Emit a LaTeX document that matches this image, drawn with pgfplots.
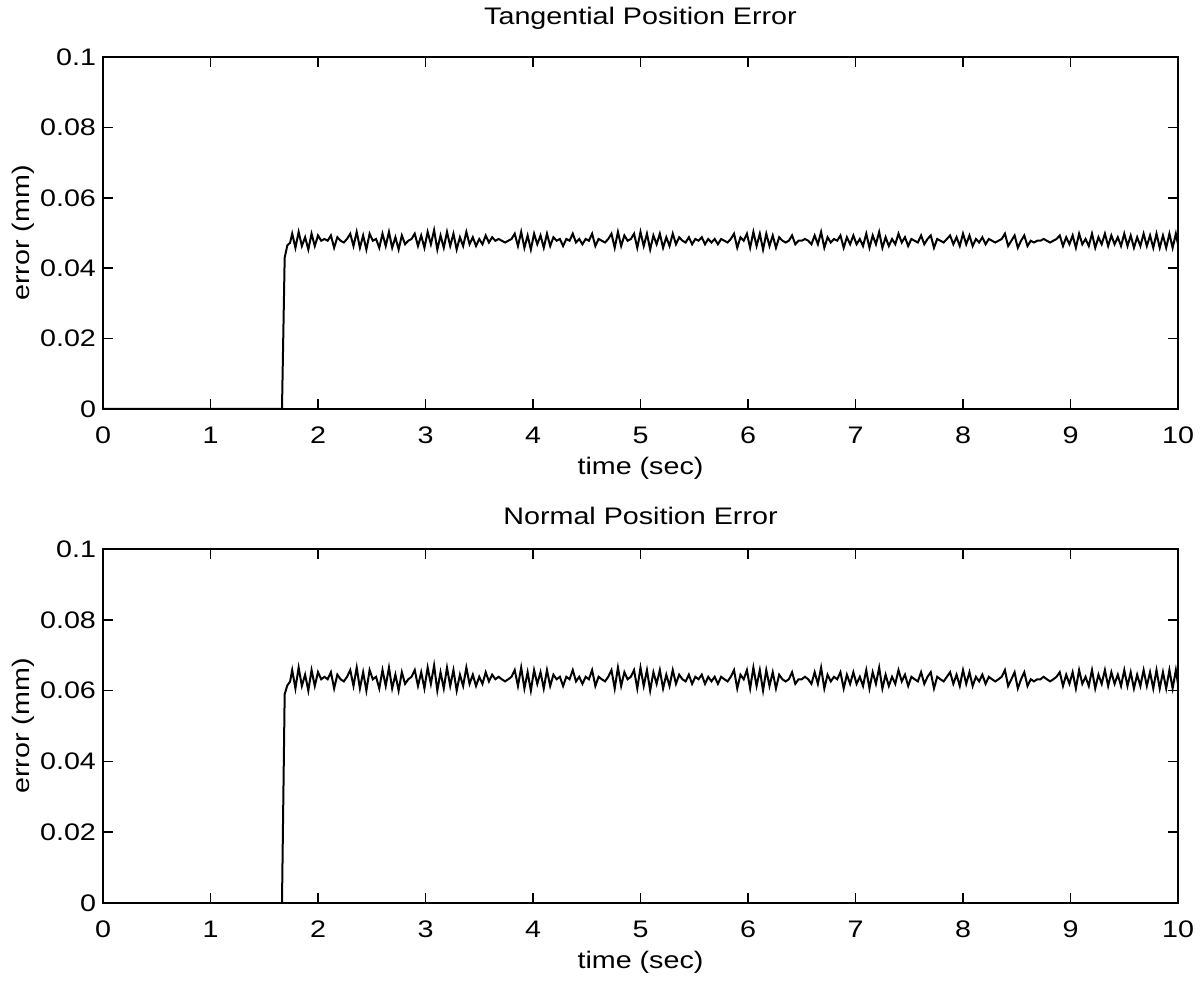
\documentclass[border=0pt]{standalone}
\usepackage{fontspec}
\setmainfont[FakeStretch=1.2]{Liberation Sans}
\usepackage{pgfplots}
\pgfplotsset{compat=1.18}
\usepackage{pgfplotstable}

\pgfplotstableread{
t top bot
0 0 0
1.665 0 0
1.69 0.0430 0.0590
1.715 0.0465 0.0615
1.74 0.0472 0.0625
1.76 0.0498 0.0658
1.79 0.0458 0.0606
1.82 0.0503 0.0665
1.85 0.0463 0.0613
1.88 0.0488 0.0645
1.91 0.0453 0.0600
1.94 0.0498 0.0658
1.97 0.0463 0.0613
2.00 0.0493 0.0652
2.03 0.0478 0.0632
2.06 0.0483 0.0639
2.09 0.0478 0.0632
2.12 0.0493 0.0652
2.15 0.0458 0.0606
2.18 0.0488 0.0645
2.21 0.0478 0.0632
2.24 0.0473 0.0626
2.27 0.0483 0.0639
2.30 0.0498 0.0658
2.33 0.0463 0.0613
2.36 0.0503 0.0665
2.39 0.0458 0.0606
2.42 0.0493 0.0652
2.45 0.0453 0.0600
2.48 0.0498 0.0658
2.51 0.0478 0.0632
2.54 0.0483 0.0639
2.57 0.0458 0.0606
2.60 0.0498 0.0658
2.63 0.0463 0.0613
2.66 0.0503 0.0665
2.69 0.0458 0.0606
2.72 0.0488 0.0645
2.75 0.0453 0.0600
2.78 0.0493 0.0652
2.81 0.0468 0.0619
2.84 0.0478 0.0632
2.87 0.0483 0.0639
2.90 0.0498 0.0658
2.93 0.0463 0.0613
2.96 0.0493 0.0652
2.99 0.0458 0.0606
3.02 0.0503 0.0665
3.05 0.0468 0.0619
3.08 0.0508 0.0671
3.11 0.0453 0.0600
3.14 0.0493 0.0652
3.17 0.0458 0.0606
3.20 0.0503 0.0665
3.23 0.0463 0.0613
3.26 0.0498 0.0658
3.29 0.0453 0.0600
3.32 0.0488 0.0645
3.35 0.0463 0.0613
3.38 0.0503 0.0665
3.41 0.0468 0.0619
3.44 0.0488 0.0645
3.47 0.0463 0.0613
3.50 0.0483 0.0639
3.53 0.0468 0.0619
3.56 0.0493 0.0652
3.59 0.0473 0.0626
3.62 0.0488 0.0645
3.65 0.0478 0.0632
3.68 0.0483 0.0639
3.71 0.0478 0.0632
3.74 0.0473 0.0626
3.77 0.0478 0.0632
3.80 0.0483 0.0639
3.83 0.0498 0.0658
3.86 0.0463 0.0613
3.89 0.0503 0.0665
3.92 0.0458 0.0606
3.95 0.0493 0.0652
3.98 0.0453 0.0600
4.01 0.0498 0.0658
4.04 0.0468 0.0619
4.07 0.0493 0.0652
4.10 0.0458 0.0606
4.13 0.0498 0.0658
4.16 0.0463 0.0613
4.19 0.0488 0.0645
4.22 0.0478 0.0632
4.25 0.0483 0.0639
4.28 0.0463 0.0613
4.31 0.0483 0.0639
4.34 0.0478 0.0632
4.37 0.0498 0.0658
4.40 0.0473 0.0626
4.43 0.0483 0.0639
4.46 0.0468 0.0619
4.49 0.0483 0.0639
4.52 0.0478 0.0632
4.55 0.0498 0.0658
4.58 0.0463 0.0613
4.61 0.0483 0.0639
4.64 0.0478 0.0632
4.67 0.0473 0.0626
4.70 0.0483 0.0639
4.73 0.0498 0.0658
4.76 0.0458 0.0606
4.79 0.0503 0.0665
4.82 0.0463 0.0613
4.85 0.0493 0.0652
4.88 0.0478 0.0632
4.91 0.0483 0.0639
4.94 0.0498 0.0658
4.97 0.0458 0.0606
5.00 0.0503 0.0665
5.03 0.0463 0.0613
5.06 0.0498 0.0658
5.09 0.0453 0.0600
5.12 0.0493 0.0652
5.15 0.0468 0.0619
5.18 0.0498 0.0658
5.21 0.0458 0.0606
5.24 0.0488 0.0645
5.27 0.0463 0.0613
5.30 0.0498 0.0658
5.33 0.0468 0.0619
5.36 0.0488 0.0645
5.39 0.0478 0.0632
5.42 0.0473 0.0626
5.45 0.0488 0.0645
5.48 0.0468 0.0619
5.51 0.0483 0.0639
5.54 0.0478 0.0632
5.57 0.0488 0.0645
5.60 0.0468 0.0619
5.63 0.0483 0.0639
5.66 0.0473 0.0626
5.69 0.0483 0.0639
5.72 0.0468 0.0619
5.75 0.0483 0.0639
5.78 0.0478 0.0632
5.81 0.0473 0.0626
5.84 0.0483 0.0639
5.87 0.0498 0.0658
5.90 0.0458 0.0606
5.93 0.0488 0.0645
5.96 0.0478 0.0632
5.99 0.0498 0.0658
6.02 0.0458 0.0606
6.05 0.0503 0.0665
6.08 0.0463 0.0613
6.11 0.0498 0.0658
6.14 0.0453 0.0600
6.17 0.0498 0.0658
6.20 0.0463 0.0613
6.23 0.0493 0.0652
6.26 0.0458 0.0606
6.29 0.0488 0.0645
6.32 0.0478 0.0632
6.35 0.0473 0.0626
6.38 0.0478 0.0632
6.41 0.0493 0.0652
6.44 0.0468 0.0619
6.47 0.0478 0.0632
6.50 0.0478 0.0632
6.53 0.0483 0.0639
6.56 0.0478 0.0632
6.59 0.0468 0.0619
6.62 0.0493 0.0652
6.65 0.0468 0.0619
6.68 0.0503 0.0665
6.71 0.0458 0.0606
6.74 0.0488 0.0645
6.77 0.0473 0.0626
6.80 0.0483 0.0639
6.83 0.0478 0.0632
6.86 0.0493 0.0652
6.89 0.0458 0.0606
6.92 0.0488 0.0645
6.95 0.0468 0.0619
6.98 0.0493 0.0652
7.01 0.0468 0.0619
7.04 0.0483 0.0639
7.07 0.0463 0.0613
7.10 0.0498 0.0658
7.13 0.0458 0.0606
7.16 0.0493 0.0652
7.19 0.0468 0.0619
7.22 0.0503 0.0665
7.25 0.0458 0.0606
7.28 0.0488 0.0645
7.31 0.0463 0.0613
7.34 0.0483 0.0639
7.37 0.0468 0.0619
7.40 0.0498 0.0658
7.43 0.0473 0.0626
7.46 0.0488 0.0645
7.49 0.0463 0.0613
7.52 0.0483 0.0639
7.55 0.0478 0.0632
7.58 0.0473 0.0626
7.61 0.0493 0.0652
7.64 0.0468 0.0619
7.67 0.0483 0.0639
7.70 0.0493 0.0652
7.73 0.0458 0.0606
7.76 0.0483 0.0639
7.79 0.0478 0.0632
7.82 0.0473 0.0626
7.85 0.0483 0.0639
7.88 0.0493 0.0652
7.91 0.0468 0.0619
7.94 0.0488 0.0645
7.97 0.0463 0.0613
8.00 0.0498 0.0658
8.03 0.0468 0.0619
8.06 0.0493 0.0652
8.09 0.0463 0.0613
8.12 0.0483 0.0639
8.15 0.0473 0.0626
8.18 0.0488 0.0645
8.21 0.0468 0.0619
8.24 0.0483 0.0639
8.27 0.0478 0.0632
8.30 0.0473 0.0626
8.33 0.0478 0.0632
8.36 0.0483 0.0639
8.39 0.0498 0.0658
8.42 0.0463 0.0613
8.45 0.0478 0.0632
8.48 0.0493 0.0652
8.51 0.0458 0.0606
8.54 0.0478 0.0632
8.57 0.0493 0.0652
8.60 0.0463 0.0613
8.63 0.0478 0.0632
8.66 0.0473 0.0626
8.69 0.0478 0.0632
8.72 0.0478 0.0632
8.75 0.0483 0.0639
8.78 0.0478 0.0632
8.81 0.0473 0.0626
8.84 0.0478 0.0632
8.87 0.0483 0.0639
8.90 0.0493 0.0652
8.93 0.0463 0.0613
8.96 0.0488 0.0645
8.99 0.0468 0.0619
9.02 0.0493 0.0652
9.05 0.0458 0.0606
9.08 0.0498 0.0658
9.11 0.0468 0.0619
9.14 0.0483 0.0639
9.17 0.0463 0.0613
9.20 0.0498 0.0658
9.23 0.0458 0.0606
9.26 0.0488 0.0645
9.29 0.0468 0.0619
9.32 0.0498 0.0658
9.35 0.0463 0.0613
9.38 0.0493 0.0652
9.41 0.0468 0.0619
9.44 0.0488 0.0645
9.47 0.0463 0.0613
9.50 0.0498 0.0658
9.53 0.0463 0.0613
9.56 0.0493 0.0652
9.59 0.0458 0.0606
9.62 0.0488 0.0645
9.65 0.0463 0.0613
9.68 0.0498 0.0658
9.71 0.0463 0.0613
9.74 0.0493 0.0652
9.77 0.0458 0.0606
9.80 0.0498 0.0658
9.83 0.0458 0.0606
9.86 0.0493 0.0652
9.89 0.0458 0.0606
9.92 0.0498 0.0658
9.95 0.0458 0.0606
9.98 0.0498 0.0658
10.00 0.0468 0.0619
}\errdata

\begin{document}
\begin{tikzpicture}
\pgfplotsset{
  every axis/.append style={
    scale only axis, width=537.5bp,
    xmin=0, xmax=10, ymin=0, ymax=0.1,
    xtick={0,1,...,10},
    ytick={0,0.02,0.04,0.06,0.08,0.1},
    yticklabels={0,0.02,0.04,0.06,0.08,0.1},
    scaled y ticks=false,
    tick align=inside, major tick length=5bp,
    axis line style={line width=1.2bp},
    tick style={line width=0.8bp, black},
    font=\fontsize{12}{14}\selectfont,
    /pgf/number format/assume math mode=true,
    xticklabel style={yshift=-5.5bp},
    xlabel={time (sec)}, ylabel={error (mm)},
    ylabel shift=-4bp,
  }
}
\path[use as bounding box] (0,0) rectangle (602bp,491bp);
\begin{axis}[at={(51.5bp,286.5bp)}, anchor=south west, height=176bp,
  title={Tangential Position Error},
  every axis title/.style={at={(0.5,1)}, anchor=base, yshift=16bp}]
\addplot[black, line width=1bp] table[x=t, y=top] {\errdata};
\end{axis}
\begin{axis}[at={(51.5bp,39.5bp)}, anchor=south west, height=177bp,
  title={Normal Position Error},
  every axis title/.style={at={(0.5,1)}, anchor=base, yshift=12bp}]
\addplot[black, line width=1bp] table[x=t, y=bot] {\errdata};
\end{axis}
\end{tikzpicture}
\end{document}
